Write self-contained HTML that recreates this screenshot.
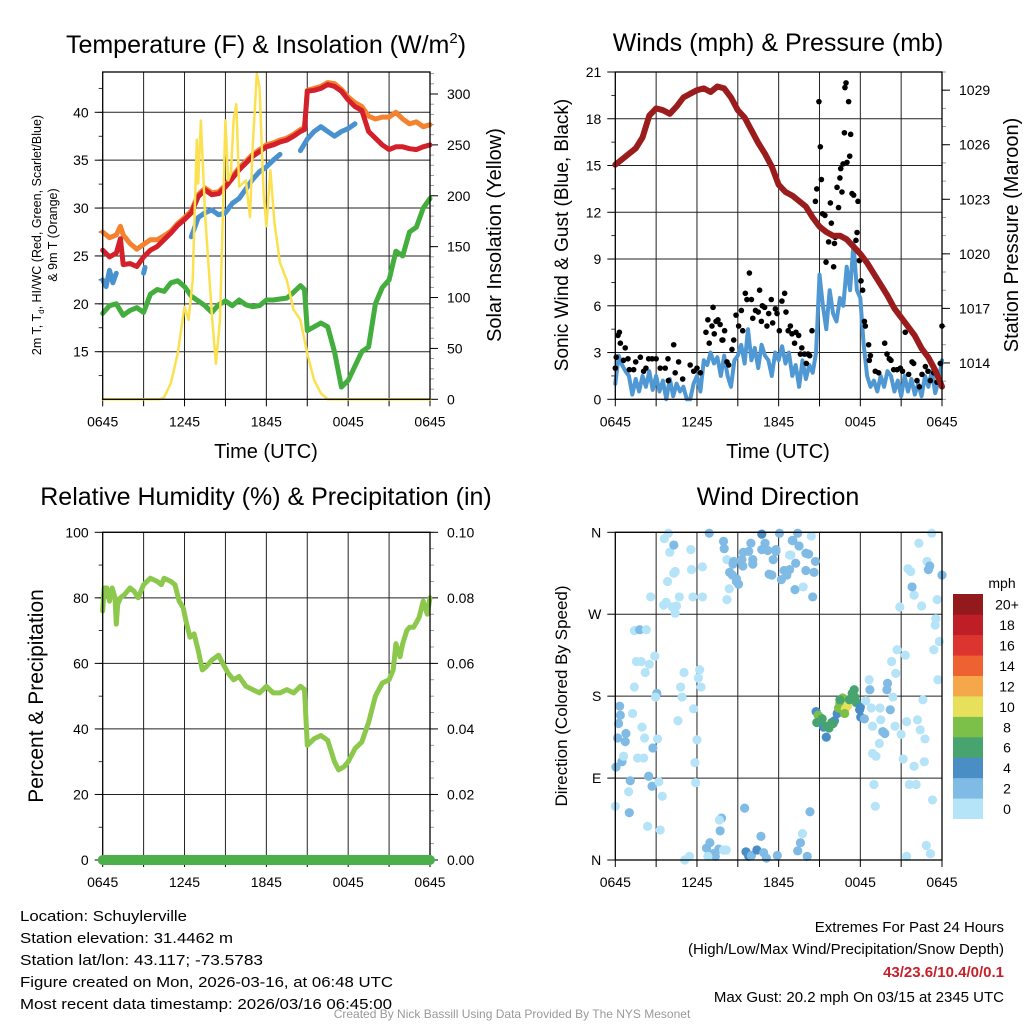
<!DOCTYPE html>
<html><head><meta charset="utf-8"><style>
html,body{margin:0;padding:0;background:#fff;}
svg{display:block;font-family:"Liberation Sans",sans-serif;}
</style></head><body>
<svg id="chart" width="1024" height="1024" viewBox="0 0 1024 1024" xmlns="http://www.w3.org/2000/svg">
<rect x="0" y="0" width="1024" height="1024" fill="#fff"/>
<text x="266" y="53" font-size="25" text-anchor="middle">Temperature (F) &amp; Insolation (W/m<tspan font-size="15" dy="-10">2</tspan><tspan dy="10">)</tspan></text>
<text x="778" y="51" font-size="25" text-anchor="middle">Winds (mph) &amp; Pressure (mb)</text>
<text x="266" y="505" font-size="25" text-anchor="middle">Relative Humidity (%) &amp; Precipitation (in)</text>
<text x="778" y="505" font-size="25" text-anchor="middle">Wind Direction</text>
<text transform="translate(41,235) rotate(-90)" font-size="12.5" text-anchor="middle">2m T, T<tspan font-size="8" dy="3">d</tspan><tspan dy="-3">, HI/WC (Red, Green, Scarlet/Blue)</tspan></text>
<text transform="translate(57,235) rotate(-90)" font-size="12.5" text-anchor="middle">&amp; 9m T (Orange)</text>
<text transform="translate(501,235) rotate(-90)" font-size="20" text-anchor="middle">Solar Insolation (Yellow)</text>
<text x="266" y="458" font-size="20" text-anchor="middle">Time (UTC)</text>
<text transform="translate(568,235) rotate(-90)" font-size="19" text-anchor="middle">Sonic Wind &amp; Gust (Blue, Black)</text>
<text transform="translate(1018,235) rotate(-90)" font-size="20" text-anchor="middle">Station Pressure (Maroon)</text>
<text x="778" y="458" font-size="20" text-anchor="middle">Time (UTC)</text>
<text transform="translate(43,696) rotate(-90)" font-size="21" text-anchor="middle">Percent &amp; Precipitation</text>
<text transform="translate(567,696) rotate(-90)" font-size="17" text-anchor="middle">Direction (Colored By Speed)</text>
<text x="1002" y="588" font-size="14" text-anchor="middle">mph</text>
<g font-size="15">
<text x="20" y="921" textLength="167" lengthAdjust="spacingAndGlyphs">Location: Schuylerville</text>
<text x="20" y="943" textLength="213" lengthAdjust="spacingAndGlyphs">Station elevation: 31.4462 m</text>
<text x="20" y="965" textLength="243" lengthAdjust="spacingAndGlyphs">Station lat/lon: 43.117; -73.5783</text>
<text x="20" y="987" textLength="373" lengthAdjust="spacingAndGlyphs">Figure created on Mon, 2026-03-16, at 06:48 UTC</text>
<text x="20" y="1009" textLength="372" lengthAdjust="spacingAndGlyphs">Most recent data timestamp: 2026/03/16 06:45:00</text>
</g>
<g font-size="15" text-anchor="end">
<text x="1004" y="932">Extremes For Past 24 Hours</text>
<text x="1004" y="954">(High/Low/Max Wind/Precipitation/Snow Depth)</text>
<text x="1004" y="977" font-weight="bold" fill="#c8202a">43/23.6/10.4/0/0.1</text>
<text x="1004" y="1002">Max Gust: 20.2 mph On 03/15 at 2345 UTC</text>
</g>
<text x="512" y="1018" font-size="12" fill="#999" text-anchor="middle">Created By Nick Bassill Using Data Provided By The NYS Mesonet</text>
</svg>
<script>
// ---------- data ----------
const xTickLabels = ['0645','1245','1845','0045','0645'];
const tempTicks = [15,20,25,30,35,40];
const insolTicks = [0,50,100,150,200,250,300];
const windTicks = [0,3,6,9,12,15,18,21];
const presTicks = [1014,1017,1020,1023,1026,1029];
const rhTicks = [0,20,40,60,80,100];
const precipTicks = ['0.00','0.02','0.04','0.06','0.08','0.10'];
const dirTicks = ['N','E','S','W','N'];
const speedLabels = ['0','2','4','6','8','10','12','14','16','18','20+'];
const speedColors = ['#b5e3f8','#7fbbe4','#4a8ec6','#48a46f','#7cc04a','#e6e05b','#f5a84a','#ee6130','#dc3530','#bf1e27','#921a1c'];

const tempHours = [0,0.5,1,1.3,1.5,2,2.5,3,3.5,4,4.5,5,5.5,6,6.5,7,7.5,8,8.5,9,9.5,10,10.5,11,11.5,12,12.5,13,13.5,14,14.5,14.8,15,15.5,16,16.5,17,17.5,18,18.5,19,19.5,20,20.5,21,21.5,22,22.5,23,23.5,24];
const redTemp = [25.6,24.9,25.3,26.8,24.1,24.2,23.9,24.9,25.6,26,26.7,27.4,28.2,28.8,29.5,31.2,31.9,31.4,31.5,32.2,33.1,34,34.7,35.4,35.9,36.4,36.6,36.9,37.1,37.5,38,38.2,42.2,42.3,42.5,42.9,42.7,42.2,41.3,40.6,40.2,38,37.3,36.6,36.1,36.4,36.4,36.2,36.1,36.4,36.6];
const orangeTemp = [27.5,26.9,27.2,28.1,27.2,26.3,25.7,26.2,26.7,26.7,27.1,27.6,28.4,29.0,29.7,31.4,32.1,31.6,31.7,32.4,33.3,34.2,34.9,35.6,36.1,36.6,36.8,37.1,37.3,37.7,38.2,38.4,42.3,42.5,42.7,43.1,43.0,42.4,41.6,41.0,40.6,39.6,39.3,39.5,39.5,40.0,39.3,38.8,39.0,38.5,38.7];
const blueHours = [0,0.25,0.5,0.75,1,1.1,2.9,3,3.1,3.2,6.5,7,7.5,8,8.5,9,9.5,10,10.5,11,11.5,12,12.5,13,13.2,14.3,14.5,15,15.5,16,16.5,17,17.5,18,18.5];
const blueTemp = [22.5,21.8,23.5,22.2,23.2,null,null,23.2,23.8,null,27,29,29.5,29.8,29.3,29.5,30.5,31,32,33,33.8,34.3,35,35.6,null,null,36,37.2,38,38.5,38,37.5,38,38.3,38.8];
const dewHours = [0,0.5,1,1.5,2,2.5,3,3.5,4,4.5,5,5.5,6,6.5,7,7.5,8,8.5,9,9.5,10,10.5,11,11.5,12,12.5,13,13.5,14,14.5,14.8,15,15.5,16,16.5,17,17.5,18,18.5,19,19.5,20,20.5,21,21.5,22,22.5,23,23.5,24];
const dewTemp = [19,19.8,20,18.8,19.3,19.6,19.1,21,21.5,21.3,22.2,22.4,21.8,20.8,20.3,19.8,19.1,19.9,20.3,19.8,20.4,19.9,19.7,19.8,20.4,20.4,20.5,20.6,21.2,21.9,21.5,17.2,17.6,18,17.6,15,11.3,12,13.5,15,15.5,20,21.7,22.5,25.5,25,27.5,28,30,31];
const insolHours = [0,4.2,4.5,5,5.5,6,6.3,6.6,6.9,7.0,7.2,7.5,8,8.3,8.6,9.0,9.2,9.4,9.6,9.8,10,10.5,10.8,11,11.3,11.5,11.8,12,12.3,12.6,13,13.5,14,14.5,15,15.5,16,16.5,24];
const insolation = [0,0,2,16,45,91,78,117,255,212,274,183,84,35,78,274,215,222,274,290,209,215,179,248,320,307,202,170,225,173,134,117,88,78,45,19,6,0,0];

const presHours = [0,0.5,1,1.5,2,2.5,3,3.5,4,4.5,5,5.5,6,6.5,7,7.5,8,8.5,9,9.5,10,10.5,11,11.5,12,12.5,13,13.5,14,14.5,15,15.5,16,16.5,17,17.5,18,18.5,19,19.5,20,20.5,21,21.5,22,22.5,23,23.5,24];
const pressure = [1024.9,1025.2,1025.5,1025.8,1026.4,1027.6,1028.0,1027.9,1027.7,1028.1,1028.6,1028.8,1029.0,1029.1,1028.9,1029.2,1029.1,1028.6,1027.9,1027.5,1026.8,1026.1,1025.5,1024.8,1023.8,1023.4,1023.2,1022.9,1022.6,1022.0,1021.5,1021.2,1021.0,1021.0,1020.8,1020.4,1020.0,1019.5,1018.9,1018.3,1017.7,1017.0,1016.5,1016.0,1015.5,1014.8,1014.3,1013.6,1012.7];
const windSpeed = [1.0,2.8,2.2,1.8,1.5,0.3,1.3,0.5,1.5,0.8,1.8,0.6,1.5,0.5,1.2,0,1.3,0.2,1,0.5,0.8,0,0,1,1.5,0.5,2.5,2.2,3,2.3,2.7,1.5,2.8,1.5,0.8,2.5,2.8,3.5,2.3,4.5,2.5,3.3,2.0,3.5,2.8,2.5,1.5,3.0,2.5,3.4,2.3,3.0,1.5,2.2,0.8,2.5,1.3,2.2,1.7,3,8,6,4.5,7,5.5,5.0,6.5,6.0,8.5,7,10,7,6.5,3.5,1.5,0.8,1.2,0.5,1.5,0.8,1.8,1.5,0.5,1.2,0.2,1.5,0.5,1.3,0.3,1.0,0.2,1.5,0.8,1.8,0.4,1.2,2.5];
const gustHours = [0,0.07,0.2,0.3,0.37,0.6,0.73,0.93,1.03,1.35,1.5,1.84,2.08,2.25,2.45,2.7,3,3.3,3.67,3.87,3.9,4.29,4.4,4.65,4.95,5.5,5.76,6,6.25,6.66,6.8,6.9,7.1,7.18,7.27,7.4,7.54,7.7,7.84,7.9,8.03,8.2,8.33,8.57,8.7,8.87,9.06,9.26,9.36,9.55,9.67,9.85,10,10.1,10.3,10.5,10.6,10.73,10.8,10.97,11.14,11.27,11.46,11.56,11.76,11.88,12.05,12.24,12.44,12.54,12.7,12.86,12.98,13.17,13.27,13.47,13.6,13.7,13.9,14.03,14.16,14.28,14.45,14.7,14.8,14.96,15.06,15.14,15.23,15.4,15.48,15.67,15.8,15.87,16.04,16.1,16.16,16.29,16.4,16.5,16.56,16.65,16.73,16.83,16.87,16.95,17.02,17.14,17.22,17.29,17.39,17.51,17.68,17.76,17.83,17.93,18.05,18.17,18.3,18.37,18.61,18.66,18.74,19.1,19.35,19.79,19.96,20.13,20.25,20.45,20.7,20.94,21.1,21.3,21.55,21.8,21.92,22.16,22.34,22.53,22.78,22.97,23.14,23.39,23.63,23.87,24];
const gustSpeed = [2.0,2.7,4.1,4.3,3.6,2.5,3.3,2.6,1.9,1.9,2.4,2.7,1.8,2.0,2.6,2.6,2.6,2.0,2.0,2.6,1.2,3.5,1.7,2.4,1.3,2.2,1.8,2.0,1.7,4.3,5.1,3.6,4.7,5.9,4.2,5.0,5.1,4.8,3.8,3.8,4.4,2.4,2.2,3.2,3.8,5.4,4.7,5.7,4.4,6.8,6.4,8.1,6.4,5.2,5.7,5.6,7.0,5.0,6.0,5.9,4.7,5.5,6.4,4.9,5.8,5.5,4.4,6.3,6.8,5.6,4.4,4.7,4.2,3.6,4.3,4.1,2.9,3.3,2.9,2.3,2.9,2.8,4.4,12.7,13.5,19.1,16.2,14.1,11.9,11.8,8.8,10.1,12.6,11.3,8.5,10.0,10.4,13.6,12.3,14.2,14.8,13.3,15.1,17.1,20.0,20.3,15.2,19.1,15.6,17.0,13.2,13.1,10.2,10.7,12.7,8.9,7.6,7.0,5.0,4.7,3.5,2.5,2.8,1.8,1.7,3.6,2.9,2.6,2.5,1.9,1.9,2.0,1.8,4.3,1.6,2.4,2.3,1.2,0.8,1.6,2.1,1.8,1.2,1.7,1.1,2.3,4.7];

const rhHours = [0,0.1,0.3,0.5,0.7,0.9,1.0,1.1,1.3,1.6,2,2.3,2.6,3,3.5,4,4.3,4.5,5,5.3,5.6,5.9,6.1,6.4,6.7,7.0,7.3,7.6,8,8.5,8.8,9.2,9.6,10,10.5,11,11.5,12,12.5,13,13.5,14,14.5,14.8,15,15.5,16,16.5,17,17.3,17.7,18,18.5,19,19.5,20,20.5,21,21.3,21.5,21.8,22,22.3,22.5,22.8,23.2,23.5,23.8,24];
const relHum = [76,83,83,79,83,80,72,78,80,81,83,82,80,84,86,85,84,86,85,84,79,77,73,68,69,64,58,59,61,62.5,60,57,55,56,53,52,51,53,51,51,52,51,53,52,35,37,38,36.5,30,27.5,28.5,30,34,36,42,50,54,55,58,66,62,66,70,71,71,74,79,75,80];
const precipHours = [0,24];
const precip = [0,0];

const dirHours = [0.32,0.37,0.24,0.17,0.05,0,0.49,0.61,0.78,0.73,1.1,0.98,1.03,1.27,1.4,1.55,1.4,1.79,2.28,1.9,2.2,2.5,2.9,1.96,2.15,1.64,2.08,2.45,2.7,2.76,3.1,3.2,3.45,2.37,3.3,3.05,2.96,2.6,3.55,3.74,4.2,4.4,4.5,3.84,4.3,4.4,4.7,4.0,4.3,3.6,3.9,5.55,5.6,5.7,6.4,6.4,4.8,4.9,5.05,4.6,5.75,6.2,6.1,6.3,6.0,5.85,5.9,5.1,5.45,
 6.9,7.95,8.0,8.2,8.7,8.65,8.4,8.6,8.9,9.05,8.9,8.37,8.2,9.3,9.4,9.37,9.8,9.96,10.1,10.1,10.76,10.76,11.0,11.2,11.3,11.6,11.8,11.8,11.5,12.06,12.2,12.4,12.6,12.8,12.8,13.0,13.4,13.05,13.25,13.5,14.0,14.2,14.0,13.2,13.8,14.5,14.6,14.7,14.4,12.9,
 6.7,6.95,7.2,7.35,7.6,7.8,7.65,7.7,7.95,8.15,6.8,9.5,9.6,9.8,10.0,10.4,10.7,10.9,11.1,11.9,13.4,13.6,13.75,14.1,14.3,
 14.75,14.9,15.1,15.2,14.8,15.3,15.5,15.7,15.9,16.1,15.5,16.3,16.4,16.5,16.7,16.8,16.9,17.05,16.85,17.2,17.4,17.55,17.6,17.7,16.5,16.0,18.0,17.95,18.03,18.3,
 18.4,18.65,18.7,18.8,18.9,19.4,18.9,19.15,19.0,19.1,19.45,19.5,19.65,19.8,20.0,19.95,20.2,20.3,20.55,20.6,20.4,20.7,21.3,21.0,21.15,21.4,21.6,22.1,21.95,22.2,22.4,22.6,22.75,22.7,23.3,22.85,23.15,21.4,20.9,22.5,21.95,21.8,21.5,21.7,22.3,22.9,23.1,23.0,23.25,23.65,23.55,23.5,23.4,23.8,23.7,24.0];
const dirDegrees = [169,159,150,134,102,59,108,114,139,130,87,75,52,161,190,218,252,253,253,218,206,215,224,146,134,112,112,92,81,123,133,86,70,37,33,183,179,289,280,283,278,271,279,306,315,317,289,338,346,353,359,341,319,289,322,289,190,179,206,153,166,209,200,190,132,107,85,0,4,
 359,350,342,330,328,325,316,313,309,303,306,298,286,330,338,323,339,348,330,325,358,341,348,340,314,330,341,339,313,359,308,318,313,319,335,351,359,351,326,345,337,336,318,297,300,289,316,328,356,335,
 13,19,7,4,12,46,44,32,11,11,4,57,9,4,5,11,26,8,2,5,10,19,29,4,53,
 163,159,156,155,151,146,147,145,151,153,135,161,167,172,178,163,166,169,161,176,183,187,179,173,176,150,168,165,157,155,
 175,198,187,167,147,128,117,114,83,59,167,154,141,139,194,187,165,218,147,205,179,231,225,138,111,152,83,83,103,154,143,176,133,108,66,16,7,4,278,279,291,300,320,317,348,328,323,319,359,286,265,258,231,240,198,313];
const dirSpeed = [2,2,2,2,2,0,2,0,2,2,2,0,2,0,0,0,0,2,0,0,0,0,0,0,0,0,0,2,2,2,0,0,0,0,0,2,0,0,0,0,0,0,0,0,0,0,0,0,2,0,0,0,0,0,0,0,0,0,0,0,0,0,0,0,0,0,0,0,0,
 2,2,2,0,2,2,2,2,2,2,2,0,0,2,2,2,2,2,2,2,4,2,2,2,2,2,2,2,2,2,2,2,2,2,0,2,2,2,2,2,2,2,2,2,0,2,2,2,0,0,
 2,2,2,2,2,2,0,2,0,0,0,2,4,4,2,4,2,2,2,2,2,2,0,2,2,
 4,8,8,6,6,4,6,6,6,4,4,4,8,8,8,8,10,10,8,6,6,6,6,6,6,6,4,4,4,2,
 0,0,2,0,0,0,0,0,0,0,0,0,2,2,2,2,2,0,0,0,0,0,0,0,0,0,0,0,0,0,0,0,0,0,0,0,0,0,0,0,0,2,0,0,0,0,2,2,0,0,0,0,0,0,0,2];

// ---------- helpers ----------
const NS = 'http://www.w3.org/2000/svg';
const svg = document.getElementById('chart');
function el(tag, attrs, parent) {
  const e = document.createElementNS(NS, tag);
  for (const k in attrs) e.setAttribute(k, attrs[k]);
  (parent || svg).appendChild(e);
  return e;
}
function lin(d0, d1, r0, r1) { return v => r0 + (v - d0) / (d1 - d0) * (r1 - r0); }
function pathFrom(xs, ys, sx, sy) {
  let d = '', pen = false;
  for (let i = 0; i < xs.length; i++) {
    if (ys[i] === null) { pen = false; continue; }
    d += (pen ? 'L' : 'M') + sx(xs[i]).toFixed(1) + ',' + sy(ys[i]).toFixed(1);
    pen = true;
  }
  return d;
}

const P1 = {x0:102.7, x1:430, y0:72, y1:399.3};
const P2 = {x0:615.3, x1:942, y0:72, y1:399.3};
const P3 = {x0:102.7, x1:430, y0:532.3, y1:860};
const P4 = {x0:615.3, x1:942, y0:532.3, y1:860};

function frame(P, name, gridY, leftTicks, leftMinor, sLeft, leftLabels, rightTicks, rightMinor, sRight, rightLabels) {
  const g = el('g', {});
  
  
  const sx = lin(0, 24, P.x0, P.x1);
  for (let h = 3; h < 24; h += 3) {
    const ln = el('line', {x1:sx(h), x2:sx(h), y1:P.y0, y2:P.y1, stroke:'#222', 'stroke-width':1}, g);
    
    
  }
  gridY.forEach(v => {
    const ln = el('line', {x1:P.x0, x2:P.x1, y1:sLeft(v), y2:sLeft(v), stroke:'#222', 'stroke-width':1}, g);
    
    
  });
  for (let h = 0; h <= 24; h += 3) {
    const tk = el('line', {x1:sx(h), x2:sx(h), y1:P.y1, y2:P.y1 + 7, stroke:'#000', 'stroke-width':1}, g);
    
    
  }
  xTickLabels.forEach((lab, i) => {
    const t = el('text', {x:sx(i * 6), y:P.y1 + 27, 'font-size':14, 'text-anchor':'middle'}, g);
    t.textContent = lab;
    
    
  });
  leftMinor.forEach(v => {
    const tk = el('line', {x1:P.x0 - 4, x2:P.x0, y1:sLeft(v), y2:sLeft(v), stroke:'#000', 'stroke-width':0.8}, g);
    
    
  });
  leftTicks.forEach((v, i) => {
    const tk = el('line', {x1:P.x0 - 8, x2:P.x0, y1:sLeft(v), y2:sLeft(v), stroke:'#000', 'stroke-width':1}, g);
    
    
    const t = el('text', {x:P.x0 - 14, y:sLeft(v) + 5, 'font-size':14, 'text-anchor':'end'}, g);
    t.textContent = leftLabels[i];
    
    
  });
  if (rightTicks) {
    rightMinor.forEach(v => {
      const tk = el('line', {x1:P.x1, x2:P.x1 + 4, y1:sRight(v), y2:sRight(v), stroke:'#888', 'stroke-width':0.8}, g);
      
      
    });
    rightTicks.forEach((v, i) => {
      const tk = el('line', {x1:P.x1, x2:P.x1 + 8, y1:sRight(v), y2:sRight(v), stroke:'#000', 'stroke-width':1}, g);
      
      
      const t = el('text', {x:P.x1 + 17, y:sRight(v) + 5, 'font-size':14, 'text-anchor':'start'}, g);
      t.textContent = rightLabels[i];
      
      
    });
  }
  return sx;
}
function border(P, name) {
  const r = el('rect', {x:P.x0, y:P.y0, width:P.x1 - P.x0, height:P.y1 - P.y0, fill:'none', stroke:'#000', 'stroke-width':1.3});
  
  
}
function range(a, b, s) { const o = []; for (let v = a; v <= b + 1e-9; v += s) o.push(+v.toFixed(4)); return o; }
function line(xs, ys, sx, sy, color, w, name) {
  const p = el('path', {d:pathFrom(xs, ys, sx, sy), fill:'none', stroke:color, 'stroke-width':w, 'stroke-linejoin':'round', 'stroke-linecap':'round'});
  
  
}

// ---------- panel 1 ----------
const sT = lin(40, 15, P1.y0 + 40.3, P1.y0 + 279.7);
const sS = lin(0, 300, P1.y1, 94);
const sx1 = frame(P1, 'temp', tempTicks, tempTicks, range(12.5, 42.5, 2.5), sT, tempTicks.map(String), insolTicks, range(0, 320, 10), sS, insolTicks.map(String));
line(dewHours, dewTemp, sx1, sT, '#43ad3d', 5, 'dewpoint-line');
line(tempHours, orangeTemp, sx1, sT, '#f4822f', 5, 'temp-9m-line');
line(tempHours, redTemp, sx1, sT, '#d4202a', 5, 'temp-2m-line');
line(blueHours, blueTemp, sx1, sT, '#4a92cf', 5, 'heat-index-windchill-line');
line(insolHours, insolation, sx1, sS, '#fbe14f', 2.5, 'insolation-line');
border(P1, 'temp');

// ---------- panel 2 ----------
const sW = lin(0, 21, P2.y1, P2.y0);
const sP = lin(1012, 1030, P2.y1, P2.y0);
const sx2 = frame(P2, 'wind', windTicks.slice(1), windTicks, range(1.5, 19.5, 3), sW, windTicks.map(String), presTicks, range(1012, 1030, 1), sP, presTicks.map(String));
const windHours = windSpeed.map((_, i) => i * 0.25);
line(windHours, windSpeed, sx2, sW, '#4f98d3', 4, 'wind-speed-line');
const gg = el('g', {fill:'#000'});


gustHours.forEach((h, i) => {
  const c = el('circle', {cx:sx2(h), cy:sW(gustSpeed[i]), r:2.8}, gg);
  
  
});
line(presHours, pressure, sx2, sP, '#9b1c1c', 6, 'pressure-line');
border(P2, 'wind');

// ---------- panel 3 ----------
const sR = lin(0, 100, P3.y1, P3.y0);
const sPr = lin(0, 0.1, P3.y1, P3.y0);
const sx3 = frame(P3, 'rh', rhTicks.slice(1), rhTicks, range(10, 90, 10), sR, rhTicks.map(String), precipTicks.map(Number), range(0, 0.1, 0.005), sPr, precipTicks);
line(rhHours, relHum, sx3, sR, '#8cc84b', 5, 'relative-humidity-line');
border(P3, 'rh');
line(precipHours, precip, sx3, sPr, '#4cb04a', 10, 'precipitation-line');

// ---------- panel 4 ----------
const sD = lin(0, 360, P4.y1, P4.y0);
const dirVals = [0, 90, 180, 270, 360];
const sx4 = frame(P4, 'wdir', dirVals, dirVals, [], sD, ['N','E','S','W','N'], null);
const dg = el('g', {});


dirHours.forEach((h, i) => {
  const ci = Math.min(10, Math.round(dirSpeed[i] / 2));
  const c = el('circle', {cx:sx4(h), cy:sD(dirDegrees[i]), r:4.6, fill:speedColors[ci]}, dg);
  
  
});
border(P4, 'wdir');

// colorbar
const cb = el('g', {});


const cbTop = 594, cbBot = 818.7, cbH = (cbBot - cbTop) / speedLabels.length;
speedLabels.forEach((lab, i) => {
  const y = cbBot - (i + 1) * cbH;
  const r = el('rect', {x:953, y:y, width:30, height:cbH + 0.3, fill:speedColors[i]}, cb);
  
  
  const t = el('text', {x:1007, y:y + cbH / 2 + 5.5, 'font-size':14, 'text-anchor':'middle'}, cb);
  t.textContent = lab;
  
  
});
</script>
</body></html>
